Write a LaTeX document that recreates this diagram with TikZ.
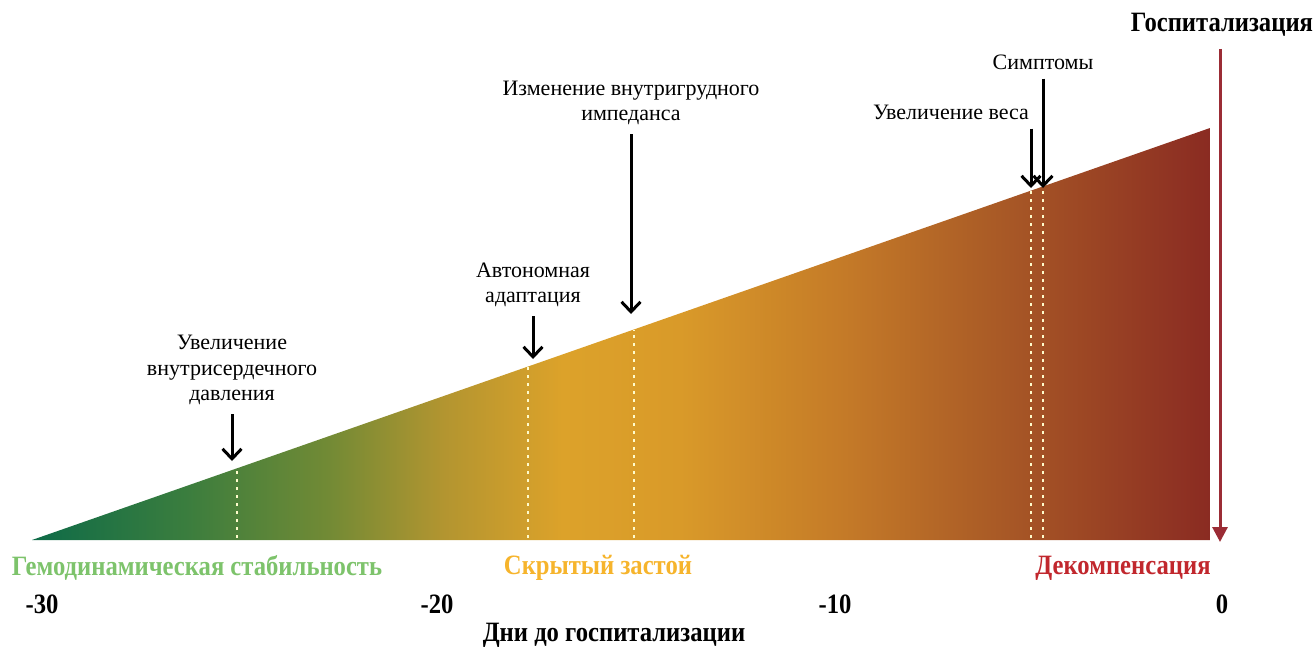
\documentclass[tikz,border=0pt]{standalone}
\usepackage{fontspec}
\setmainfont{Liberation Serif}
\newfontfamily\narrowbf[FakeStretch=0.88]{Liberation Serif Bold}
\usetikzlibrary{arrows.meta}
\definecolor{stabgreen}{HTML}{7DC36B}
\definecolor{hiddenorange}{HTML}{F6B42C}
\definecolor{decred}{HTML}{C1272D}
\definecolor{hospred}{HTML}{9B2C35}
\definecolor{rampa}{HTML}{0E6B48}
\definecolor{rampb}{HTML}{3A7D3E}
\definecolor{rampc}{HTML}{718A35}
\definecolor{rampd}{HTML}{B39530}
\definecolor{rampe}{HTML}{DCA22A}
\definecolor{rampf}{HTML}{D99A29}
\definecolor{rampg}{HTML}{C47A28}
\definecolor{ramph}{HTML}{A95A26}
\definecolor{rampi}{HTML}{8A2B22}
\pgfdeclarehorizontalshading{stageramp}{100bp}{color(0bp)=(rampa); color(25bp)=(rampa);
  color(31.5bp)=(rampb); color(37.5bp)=(rampc); color(42.5bp)=(rampd); color(47.5bp)=(rampe);
  color(52.5bp)=(rampf); color(59.5bp)=(rampg); color(66bp)=(ramph); color(75bp)=(rampi);
  color(100bp)=(rampi)}

\begin{document}
\begin{tikzpicture}[x=1pt,y=-1pt,
    lbl/.style={font=\fontsize{22}{25.5}\selectfont,align=center,inner sep=0pt},
    stage/.style={font=\narrowbf\fontsize{28}{30}\selectfont,inner sep=0pt},
    cue/.style={line width=3pt,-{Straight Barb[length=10pt,width=19pt]},shorten <=9pt},
    dots/.style={white!80!yellow,line width=2pt,dash pattern=on 3pt off 5pt}]
  \useasboundingbox (0,0) rectangle (1316,648);
  \shade[shading=stageramp] (32,540) -- (1210,128) -- (1210,540) -- cycle;
  \foreach \x/\y in {237/468.3,528/366.5,634/329.5,1031/190.6,1043/186.4}
    \draw[dots] (\x,538) -- (\x,\y);
  % events along the slope
  \node[lbl] (pressure) at (232,370) {Увеличение\\внутрисердечного\\давления};
  \node[lbl] (autonomic) at (533,285) {Автономная\\адаптация};
  \node[lbl] (impedance) at (631,103) {Изменение внутригрудного\\импеданса};
  \node[lbl] (weight) at (951,112) {Увеличение веса};
  \node[lbl] (symptoms) at (1043,62) {Симптомы};
  \coordinate (tpressure) at (232,461);
  \coordinate (tautonomic) at (533,359);
  \coordinate (timpedance) at (631,314);
  \coordinate (tweight) at (1031,188);
  \coordinate (tsymptoms) at (1043,188);
  \draw[cue] (pressure.south) -- (tpressure);
  \draw[cue] (autonomic.south) -- (tautonomic);
  \draw[cue] (impedance.south) -- (timpedance);
  \draw[cue] (weight.south -| tweight) -- (tweight);
  \draw[cue] (symptoms.south) -- (tsymptoms);
  % hospitalisation
  \node[stage] (hosp) at (1222,25) {Госпитализация};
  \coordinate (hospend) at (1220,542);
  \draw[hospred,line width=3pt,-{Triangle[length=15pt,width=15pt]},shorten <=12pt]
    (hosp.south -| hospend) -- (hospend);
  % stages and days
  \node[stage,text=stabgreen] (stable) at (197,568) {Гемодинамическая стабильность};
  \node[stage,text=hiddenorange] (hidden) at (598,568) {Скрытый застой};
  \node[stage,text=decred] (decomp) at (1123,568) {Декомпенсация};
  \foreach \d/\x in {-30/42,-20/437,-10/835,0/1222}
    \node[stage] (day\d) at (\x,604) {\d};
  \node[stage] (axis) at (614,635) {Дни до госпитализации};
\end{tikzpicture}
\end{document}
